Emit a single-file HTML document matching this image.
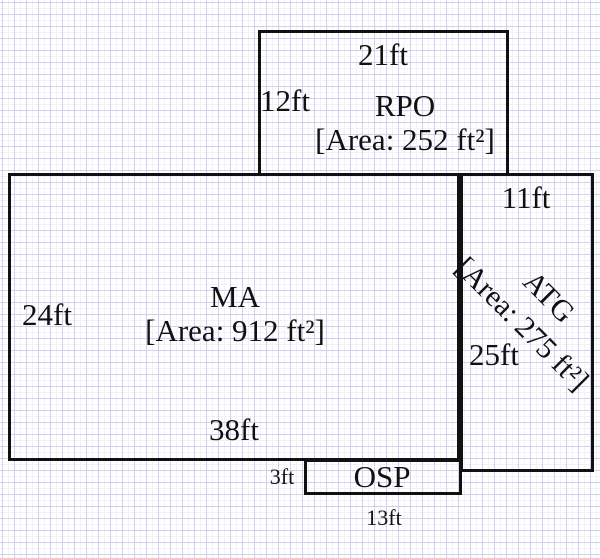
<!DOCTYPE html>
<html><head><meta charset="utf-8"><style>
html,body{margin:0;padding:0;}
body{width:600px;height:558px;position:relative;overflow:hidden;background:#fff;
background-image:linear-gradient(to right,#d2d2e2 1px,transparent 1px),linear-gradient(to bottom,#d2d2e2 1px,transparent 1px),linear-gradient(to right,#f2f2f6 1px,transparent 1px),linear-gradient(to bottom,#f2f2f6 1px,transparent 1px);
background-size:12px 12px,12px 12px,6px 6px,6px 6px;background-position:2px 2px,2px 2px,2px 2px,2px 2px;
font-family:"Liberation Serif",serif;color:#111;}
.r{position:absolute;border:3px solid #111;box-sizing:border-box;}
.t{position:absolute;font-size:31px;line-height:34px;white-space:nowrap;text-align:center;transform:translate(-50%,-50%);}
</style></head><body>
<div class="r" style="left:258px;top:30px;width:251px;height:146px"></div>
<div class="r" style="left:8px;top:173px;width:452px;height:288px"></div>
<div class="r" style="left:460px;top:173px;width:134px;height:299px"></div>
<div class="r" style="left:304px;top:459px;width:158px;height:36px"></div>
<div class="t" style="left:383px;top:55px">21ft</div>
<div class="t" style="left:285px;top:101px">12ft</div>
<div class="t" style="left:405px;top:123px">RPO<br>[Area: 252 ft²]</div>
<div class="t" style="left:526px;top:198px">11ft</div>
<div class="t" style="left:47px;top:315px">24ft</div>
<div class="t" style="left:235px;top:314px">MA<br>[Area: 912 ft²]</div>
<div class="t" style="left:234px;top:430px">38ft</div>
<div class="t" style="left:494px;top:355px">25ft</div>
<div class="t" style="left:535px;top:311px;font-size:30px;line-height:38px;transform:translate(-50%,-50%) rotate(45deg)">ATG<br>[Area: 275 ft²]</div>
<div class="t" style="left:282px;top:477px;font-size:22px">3ft</div>
<div class="t" style="left:382px;top:477px">OSP</div>
<div class="t" style="left:384px;top:518px;font-size:22px">13ft</div>
</body></html>
